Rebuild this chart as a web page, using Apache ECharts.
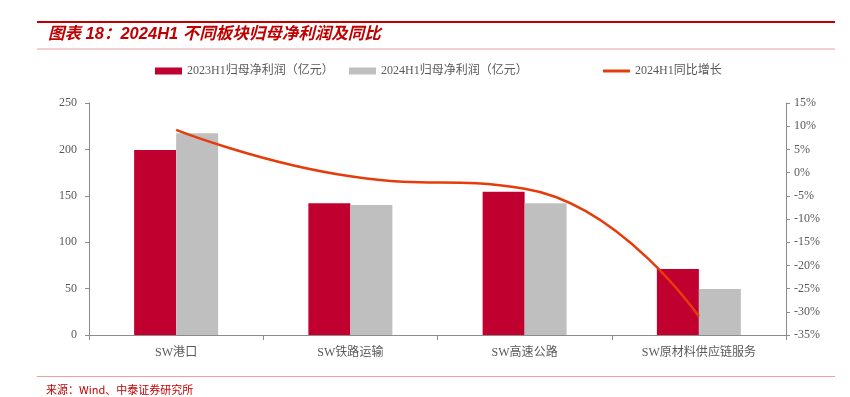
<!DOCTYPE html>
<html>
<head>
<meta charset="utf-8">
<script src="https://cdn.jsdelivr.net/npm/echarts@6/dist/echarts.min.js"></script>
<style>
  html, body { margin: 0; padding: 0; background: #fff; }
  #chart { width: 850px; height: 397px; }
</style>
</head>
<body>
<div id="chart"></div>
<script>
// 数据
const categories = ['SW港口', 'SW铁路运输', 'SW高速公路', 'SW原材料供应链服务']
const profit2023 = [199.4, 141.9, 154.4, 71.1]
const profit2024 = [217.3, 140.1, 141.9, 49.6]
const yoyGrowth = [9.2, -0.8, -3.5, -31.0]

const labelFont = '"Liberation Serif", "Noto Sans CJK SC", serif'
const axisColor = '#8c8c8c'
const legendText = { color: '#595959', fontSize: 12, fontFamily: labelFont }

const chart = echarts.init(document.getElementById('chart'))

const option = {
  animation: false,
  graphic: [
    // 顶部红线
    { type: 'rect', shape: { x: 37, y: 21, width: 798, height: 2 }, style: { fill: '#C00000' } },
    {
      type: 'text', left: 48, top: 26,
      style: {
        text: '图表 18：2024H1 不同板块归母净利润及同比',
        fill: '#C00000',
        font: 'italic bold 16.5px "Liberation Sans", "Noto Sans CJK SC", sans-serif'
      }
    },
    { type: 'rect', shape: { x: 37, y: 48.5, width: 798, height: 1 }, style: { fill: '#E8A0A0' } },
    // 底部
    { type: 'rect', shape: { x: 37, y: 376, width: 798, height: 1 }, style: { fill: '#E8A0A0' } },
    {
      type: 'text', left: 46, top: 384,
      style: {
        text: '来源：Wind、中泰证券研究所',
        fill: '#C00000',
        font: '11px "Noto Sans CJK SC", sans-serif'
      }
    }
  ],
  legend: [
    {
      top: 65, left: 155, padding: 0, itemWidth: 27, itemHeight: 7, textStyle: legendText,
      data: [{ name: '2023H1归母净利润（亿元）', icon: 'rect' }]
    },
    {
      top: 65, left: 349, padding: 0, itemWidth: 27, itemHeight: 7, textStyle: legendText,
      data: [{ name: '2024H1归母净利润（亿元）', icon: 'rect' }]
    },
    {
      top: 65, left: 603, padding: 0, itemWidth: 27, itemHeight: 3, textStyle: legendText,
      data: [{ name: '2024H1同比增长', icon: 'rect' }]
    }
  ],
  grid: { left: 89, right: 64, top: 103, bottom: 62 },
  xAxis: {
    type: 'category',
    data: categories,
    axisLine: { lineStyle: { color: axisColor } },
    axisTick: { show: true, length: 5, lineStyle: { color: axisColor } },
    axisLabel: { color: '#595959', fontSize: 12, fontFamily: labelFont, margin: 12 }
  },
  yAxis: [
    {
      type: 'value',
      min: 0, max: 250, interval: 50,
      axisLine: { show: true, lineStyle: { color: axisColor } },
      axisTick: { show: true, length: 4, lineStyle: { color: axisColor } },
      splitLine: { show: false },
      axisLabel: { color: '#595959', fontSize: 12, fontFamily: labelFont, margin: 12 }
    },
    {
      type: 'value',
      min: -35, max: 15, interval: 5,
      position: 'right',
      axisLine: { show: true, lineStyle: { color: axisColor } },
      axisTick: { show: true, length: 4, lineStyle: { color: axisColor } },
      splitLine: { show: false },
      axisLabel: { color: '#595959', fontSize: 12, fontFamily: labelFont, margin: 8, formatter: '{value}%' }
    }
  ],
  series: [
    {
      name: '2023H1归母净利润（亿元）',
      type: 'bar',
      data: profit2023,
      barWidth: 42,
      barGap: '0%',
      itemStyle: { color: '#C0002E' }
    },
    {
      name: '2024H1归母净利润（亿元）',
      type: 'bar',
      data: profit2024,
      barWidth: 42,
      barGap: '0%',
      itemStyle: { color: '#BFBFBF' }
    },
    {
      name: '2024H1同比增长',
      type: 'line',
      yAxisIndex: 1,
      data: yoyGrowth,
      smooth: 0.5,
      symbol: 'none',
      lineStyle: { color: '#E63C0C', width: 2.5 },
      itemStyle: { color: '#E63C0C' }
    }
  ]
}

chart.setOption(option)
</script>
</body>
</html>
